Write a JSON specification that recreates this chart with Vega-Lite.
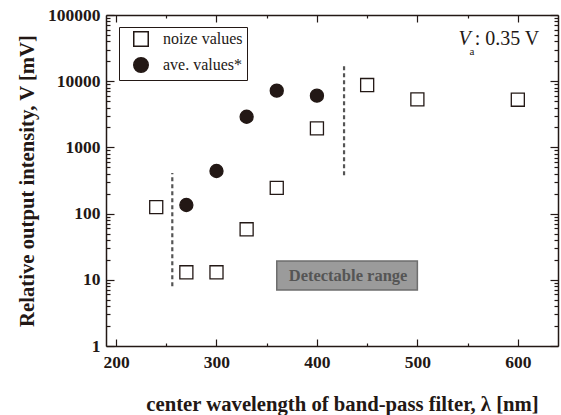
{
  "$schema": "https://vega.github.io/schema/vega-lite/v6.json",
  "width": 452,
  "height": 331,
  "autosize": {"type": "none"},
  "padding": {"left": 106, "top": 15, "right": 3, "bottom": 69},
  "background": "white",
  "config": {"view": {"stroke": null}, "font": "Liberation Serif"},
  "datasets": {
    "points": [
      {"wl": 240, "v": 125, "series": "noize values"},
      {"wl": 270, "v": 13, "series": "noize values"},
      {"wl": 300, "v": 13, "series": "noize values"},
      {"wl": 330, "v": 58, "series": "noize values"},
      {"wl": 360, "v": 245, "series": "noize values"},
      {"wl": 400, "v": 1940, "series": "noize values"},
      {"wl": 450, "v": 8760, "series": "noize values"},
      {"wl": 500, "v": 5300, "series": "noize values"},
      {"wl": 600, "v": 5250, "series": "noize values"},
      {"wl": 270, "v": 135, "series": "ave. values*"},
      {"wl": 300, "v": 440, "series": "ave. values*"},
      {"wl": 330, "v": 2900, "series": "ave. values*"},
      {"wl": 360, "v": 7200, "series": "ave. values*"},
      {"wl": 400, "v": 6040, "series": "ave. values*"}
    ],
    "box": [{"x1": 360, "x2": 500, "y1": 7, "y2": 19.2, "xc": 431, "yc": 11.6, "label": "Detectable range"}],
    "limits": [{"x": 256, "y1": 8, "y2": 410}, {"x": 427, "y1": 380, "y2": 18700}],
    "note": [{"part": "V", "x": 553, "y": 35200}, {"part": "a", "x": 552, "y": 24900}, {"part": ": 0.35 V", "x": 557, "y": 35200}]
  },
  "resolve": {"axis": {"x": "independent", "y": "independent"}},
  "layer": [
    {
      "data": {"name": "box"},
      "mark": {"type": "rect", "fill": "#9b9b9b", "stroke": "#6e6e6e", "strokeWidth": 1.5},
      "encoding": {
        "x": {"field": "x1", "type": "quantitative",
          "scale": {"domain": [190, 640], "nice": false, "zero": false},
          "axis": {"orient": "bottom", "values": [200, 250, 300, 350, 400, 450, 500, 550, 600], "format": "d",
            "labelExpr": "datum.value % 100 == 0 ? datum.label : ''",
            "tickSize": {"condition": {"test": "datum.value % 100 == 0", "value": -7}, "value": -3},
            "labelPadding": 14, "labelFontSize": 17.5, "labelFontWeight": "bold", "labelFont": "Liberation Serif",
            "labelColor": "#231815", "tickColor": "#231815", "tickWidth": 1.2, "domainColor": "#231815", "domainWidth": 1.5,
            "grid": false, "labelOverlap": false, "labelFlush": false,
            "title": "center wavelength of band-pass filter, λ [nm]", "titleFont": "Liberation Serif", "titleFontSize": 20.7,
            "titleFontWeight": "bold", "titleColor": "#231815", "titlePadding": 20, "titleX": 236}},
        "x2": {"field": "x2"},
        "y": {"field": "y1", "type": "quantitative",
          "scale": {"type": "log", "domain": [1, 100000], "nice": false},
          "axis": {"orient": "left",
            "values": [1,2,3,4,5,6,7,8,9,10,20,30,40,50,60,70,80,90,100,200,300,400,500,600,700,800,900,1000,2000,3000,4000,5000,6000,7000,8000,9000,10000,20000,30000,40000,50000,60000,70000,80000,90000,100000],
            "format": "d",
            "labelExpr": "indexof([1,10,100,1000,10000,100000], datum.value) >= 0 ? datum.label : ''",
            "tickSize": {"condition": {"test": "indexof([1,10,100,1000,10000,100000], datum.value) >= 0", "value": -8}, "value": -4},
            "labelPadding": 14, "labelFontSize": 17.5, "labelFontWeight": "bold", "labelFont": "Liberation Serif",
            "labelColor": "#231815", "tickColor": "#231815", "tickWidth": 1.2, "domainColor": "#231815", "domainWidth": 1.5,
            "grid": false, "labelOverlap": false, "labelFlush": false,
            "title": "Relative output intensity, V [mV]", "titleFont": "Liberation Serif", "titleFontSize": 20.7,
            "titleFontWeight": "bold", "titleColor": "#231815", "titlePadding": 10}},
        "y2": {"field": "y2"}
      }
    },
    {
      "data": {"name": "box"},
      "mark": {"type": "text", "font": "Liberation Serif", "fontWeight": "bold", "fontSize": 16.5, "color": "#555555", "align": "center", "baseline": "middle"},
      "encoding": {
        "x": {"field": "xc", "type": "quantitative", "scale": {"domain": [190, 640], "nice": false, "zero": false}, "axis": null},
        "y": {"field": "yc", "type": "quantitative", "scale": {"type": "log", "domain": [1, 100000], "nice": false}, "axis": null},
        "text": {"field": "label"}
      }
    },
    {
      "data": {"name": "limits"},
      "mark": {"type": "rule", "color": "#555555", "strokeWidth": 2.2, "strokeDash": [4, 3]},
      "encoding": {
        "x": {"field": "x", "type": "quantitative", "scale": {"domain": [190, 640], "nice": false, "zero": false},
          "axis": {"orient": "top", "values": [200, 250, 300, 350, 400, 450, 500, 550, 600], "labels": false, "title": null,
            "tickSize": {"condition": {"test": "datum.value % 100 == 0", "value": -7}, "value": -3},
            "tickColor": "#231815", "tickWidth": 1.2, "domainColor": "#231815", "domainWidth": 1.5, "grid": false}},
        "y": {"field": "y1", "type": "quantitative", "scale": {"type": "log", "domain": [1, 100000], "nice": false},
          "axis": {"orient": "right", "labels": false, "title": null,
            "values": [1,2,3,4,5,6,7,8,9,10,20,30,40,50,60,70,80,90,100,200,300,400,500,600,700,800,900,1000,2000,3000,4000,5000,6000,7000,8000,9000,10000,20000,30000,40000,50000,60000,70000,80000,90000,100000],
            "tickSize": {"condition": {"test": "indexof([1,10,100,1000,10000,100000], datum.value) >= 0", "value": -8}, "value": -4},
            "tickColor": "#231815", "tickWidth": 1.2, "domainColor": "#231815", "domainWidth": 1.5, "grid": false}},
        "y2": {"field": "y2"}
      }
    },
    {
      "data": {"name": "note"},
      "transform": [{"filter": "datum.part == 'V'"}],
      "mark": {"type": "text", "font": "Liberation Serif", "fontStyle": "italic", "fontSize": 20, "color": "#231815", "align": "right", "baseline": "alphabetic"},
      "encoding": {
        "x": {"field": "x", "type": "quantitative", "scale": {"domain": [190, 640], "nice": false, "zero": false}, "axis": null},
        "y": {"field": "y", "type": "quantitative", "scale": {"type": "log", "domain": [1, 100000], "nice": false}, "axis": null},
        "text": {"field": "part"}
      }
    },
    {
      "data": {"name": "note"},
      "transform": [{"filter": "datum.part == 'a'"}],
      "mark": {"type": "text", "font": "Liberation Serif", "fontSize": 11, "color": "#231815", "align": "left", "baseline": "alphabetic"},
      "encoding": {
        "x": {"field": "x", "type": "quantitative", "scale": {"domain": [190, 640], "nice": false, "zero": false}, "axis": null},
        "y": {"field": "y", "type": "quantitative", "scale": {"type": "log", "domain": [1, 100000], "nice": false}, "axis": null},
        "text": {"field": "part"}
      }
    },
    {
      "data": {"name": "note"},
      "transform": [{"filter": "datum.part == ': 0.35 V'"}],
      "mark": {"type": "text", "font": "Liberation Serif", "fontSize": 20, "color": "#231815", "align": "left", "baseline": "alphabetic"},
      "encoding": {
        "x": {"field": "x", "type": "quantitative", "scale": {"domain": [190, 640], "nice": false, "zero": false}, "axis": null},
        "y": {"field": "y", "type": "quantitative", "scale": {"type": "log", "domain": [1, 100000], "nice": false}, "axis": null},
        "text": {"field": "part"}
      }
    },
    {
      "data": {"name": "points"},
      "mark": {"type": "point", "filled": true, "size": 170, "stroke": "#231815", "strokeWidth": 1.3, "opacity": 1},
      "encoding": {
        "x": {"field": "wl", "type": "quantitative", "scale": {"domain": [190, 640], "nice": false, "zero": false}, "axis": null},
        "y": {"field": "v", "type": "quantitative", "scale": {"type": "log", "domain": [1, 100000], "nice": false}, "axis": null},
        "shape": {"field": "series", "type": "nominal", "title": null,
          "scale": {"domain": ["noize values", "ave. values*"], "range": ["square", "circle"]},
          "legend": {"orient": "none", "legendX": 13, "legendY": 12, "title": null, "strokeColor": "#231815", "fillColor": "white",
            "padding": 4, "rowPadding": 4, "symbolOffset": 10, "labelOffset": 14, "labelFont": "Liberation Serif", "labelFontSize": 16,
            "labelColor": "#231815", "symbolSize": 210,
            "encode": {"symbols": {"update": {"stroke": {"value": "#231815"}, "strokeWidth": {"value": 1.3}}}}}},
        "fill": {"field": "series", "type": "nominal", "title": null,
          "scale": {"domain": ["noize values", "ave. values*"], "range": ["white", "#231815"]}}
      }
    }
  ]
}
